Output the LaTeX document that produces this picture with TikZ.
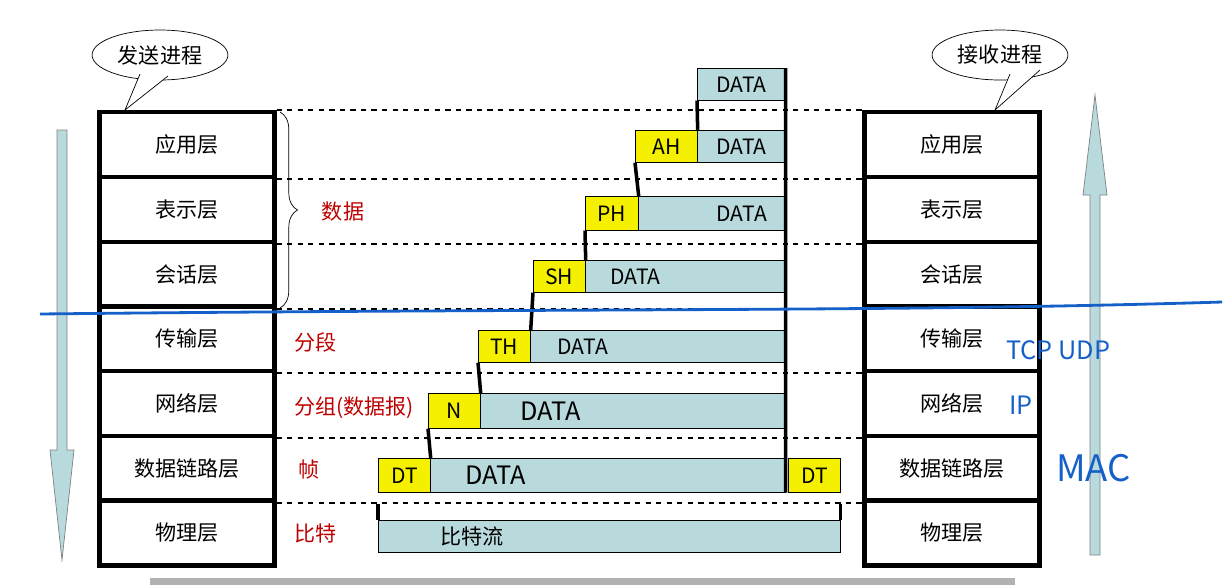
\documentclass[tikz,border=0pt]{standalone}
\usepackage{fontspec}
\setmainfont{Noto Sans CJK SC}
\usetikzlibrary{positioning,shapes,arrows,decorations.pathreplacing,calc}
\definecolor{pkt}{HTML}{B8DADD}
\definecolor{hdr}{HTML}{F5F000}
\definecolor{ink}{HTML}{1560C8}
\tikzset{
	layer/.style = {draw, line width=2.4pt, minimum width=3.5cm, minimum height=1.3cm, font=\large, inner sep=0},
	data/.style = {draw, fill=pkt, anchor=north west, font=\large, inner sep=0},
	head/.style = {draw, fill=hdr, anchor=north west, font=\large, inner sep=0},
	red/.style = {text=red!75!black, font=\large},
}
\begin{document}
\begin{tikzpicture}[x=0.02cm,y=-0.02cm]
	\useasboundingbox (0,0) rectangle (1225,585);

	% layer stacks
	\foreach \t [count=\i] in {应用层,表示层,会话层,传输层,网络层,数据链路层,物理层}{
		\node[layer] (L\i) at (187,{80+\i*64.7}) {\t};
		\node[layer] (R\i) at (952,{80+\i*64.7}) {\t};
	}
	\foreach \i in {1,...,6}
		\draw[dashed,line width=1.2pt] (L\i.south east) -- (R\i.south west);
	\draw[dashed,line width=1.2pt] (L1.north east) -- (R1.north west);

	% process bubbles
	\node[ellipse,draw,fill=white,minimum width=2.6cm,minimum height=1cm,font=\large] (snd) at (160,55) {发送进程};
	\node[ellipse,draw,fill=white,minimum width=2.6cm,minimum height=1cm,font=\large] (rcv) at (1000,55) {接收进程};
	\draw[fill=white] (140,74) -- (125,110) -- (168,76);
	\draw[fill=white] (1010,74) -- (995,110) -- (1040,70);

	% big arrows
	\draw[fill=pkt,draw=gray] (57,130) -- (67,130) -- (67,450) -- (74,450) -- (62,560) -- (50,450) -- (57,450) -- cycle;
	\draw[fill=pkt,draw=gray] (1090,555) -- (1100,555) -- (1100,195) -- (1107,195) -- (1095,95) -- (1083,195) -- (1090,195) -- cycle;

	% packets
	\node[data,minimum width=1.76cm,minimum height=0.64cm] (d0) at (697,68) {DATA};
	\node[head,minimum width=1.24cm,minimum height=0.64cm] (ah) at (635,130) {AH};
	\node[data,minimum width=1.76cm,minimum height=0.64cm] (d1) at (697,130) {DATA};
	\node[head,minimum width=1.06cm,minimum height=0.68cm] (ph) at (585,196) {PH};
	\node[data,minimum width=2.94cm,minimum height=0.68cm] (d2) at (638,196) {\hspace*{1.2cm}DATA};
	\node[head,minimum width=1.04cm,minimum height=0.64cm] (sh) at (533,260) {SH};
	\node[data,minimum width=4cm,minimum height=0.64cm] (d3) at (585,260) {DATA\hspace*{2cm}};
	\node[head,minimum width=1.04cm,minimum height=0.64cm] (th) at (478,330) {TH};
	\node[data,minimum width=5.1cm,minimum height=0.64cm] (d4) at (530,330) {DATA\hspace*{3cm}};
	\node[head,minimum width=1.04cm,minimum height=0.7cm] (nh) at (428,393) {N};
	\node[data,minimum width=6.1cm,minimum height=0.7cm,font=\Large] (d5) at (480,393) {DATA\hspace*{3.3cm}};
	\node[head,minimum width=1.04cm,minimum height=0.68cm] (dt) at (378,458) {DT};
	\node[data,minimum width=7.1cm,minimum height=0.68cm,font=\Large] (d6) at (430,458) {DATA\hspace*{4.5cm}};
	\node[head,minimum width=1.04cm,minimum height=0.68cm] (dt2) at (788,458) {DT};
	\node[data,minimum width=9.24cm,minimum height=0.64cm] (bits) at (378,520) {\hspace*{1cm}比特流\hspace*{6.5cm}};

	% connectors
	\draw[line width=2pt] (d0.north east) -- (d6.south east);
	\draw[line width=2pt] (d0.south west) -- (ah.north east);
	\draw[line width=2pt] (ah.south west) -- (ph.north east);
	\draw[line width=2pt] (ph.south west) -- (sh.north east);
	\draw[line width=2pt] (sh.south west) -- (th.north east);
	\draw[line width=2pt] (th.south west) -- (nh.north east);
	\draw[line width=2pt] (nh.south west) -- (dt.north east);
	\draw[line width=2pt] (bits.north west) -- ++(0,-16);
	\draw[line width=2pt] (bits.north east) -- ++(0,-16);

	% labels
	\draw[decorate,decoration={brace,amplitude=10pt}] (280,112) -- (280,308);
	\node[red] (lbdata) at (343,212) {数据};
	\node[red,anchor=west] (lbseg) at (288,342) {分段};
	\node[red,anchor=west] (lbpkt) at (288,408) {分组(数据报)};
	\node[red,anchor=west] (lbfrm) at (292,470) {帧};
	\node[red,anchor=west] (lbbit) at (288,533) {比特};

	% hand notes
	\draw[ink,line width=1.6pt] (40,314) .. controls (600,308) and (900,312) .. (1222,302);
	\node[ink,font=\Large\itshape,anchor=west] (tcp) at (1000,350) {TCP UDP};
	\node[ink,font=\Large\itshape,anchor=west] (ip) at (1003,405) {IP};
	\node[ink,font=\huge\itshape,anchor=west] (mac) at (1050,468) {MAC};

	\fill[gray!60] (150,578) rectangle (1015,585);
\end{tikzpicture}
\end{document}
